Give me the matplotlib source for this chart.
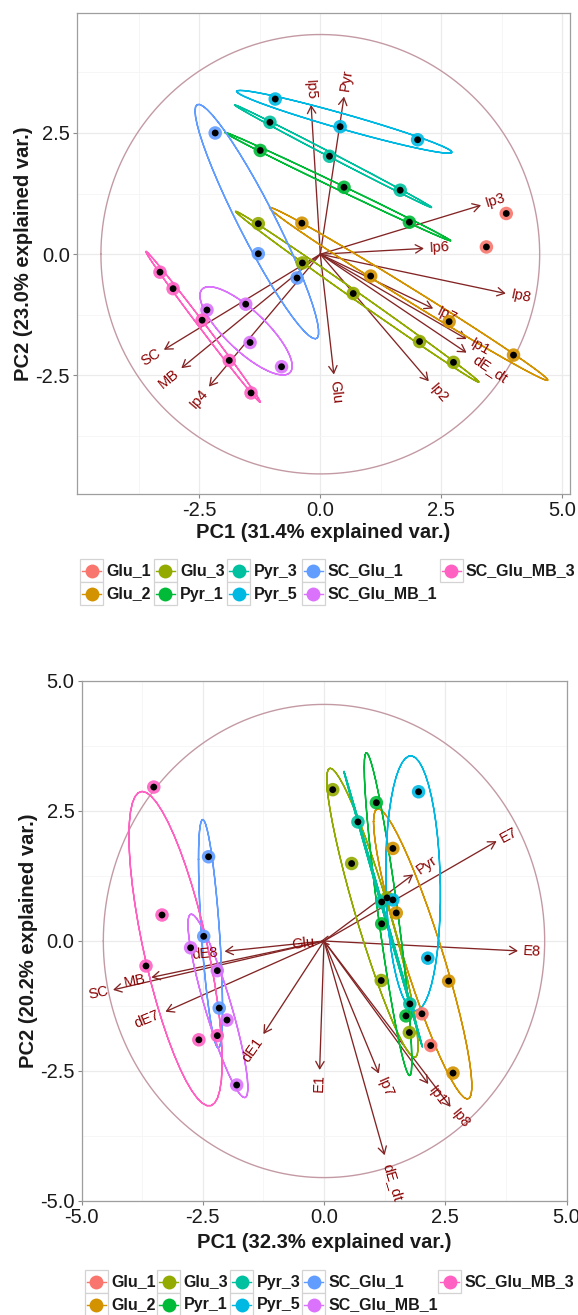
import numpy as np
import matplotlib
matplotlib.use('Agg')
import matplotlib.pyplot as plt
from matplotlib.patches import FancyArrowPatch, Rectangle, ArrowStyle
from matplotlib.font_manager import FontProperties
from matplotlib import transforms

plt.rcParams['font.family'] = ['Liberation Sans', 'DejaVu Sans']

# ---------------- data ----------------
GROUPS = ['Glu_1', 'Glu_2', 'Glu_3', 'Pyr_1', 'Pyr_3', 'Pyr_5',
          'SC_Glu_1', 'SC_Glu_MB_1', 'SC_Glu_MB_3']
PALETTE = ['#F8766D', '#D39200', '#93AA00', '#00BA38', '#00C19F',
           '#00B9E3', '#619CFF', '#DB72FB', '#FF61C3']

# top biplot (scores)
top_group = (['Glu_1'] * 2 + ['Glu_2'] * 4 + ['Glu_3'] * 5 + ['Pyr_1'] * 3 +
             ['Pyr_3'] * 3 + ['Pyr_5'] * 3 + ['SC_Glu_1'] * 3 +
             ['SC_Glu_MB_1'] * 4 + ['SC_Glu_MB_3'] * 5)
top_pc1 = [3.84, 3.43,
           -0.38, 1.04, 2.66, 3.99,
           -1.28, -0.37, 0.68, 2.05, 2.75,
           -1.24, 0.49, 1.84,
           -1.04, 0.19, 1.65,
           -0.93, 0.41, 2.01,
           -2.17, -1.28, -0.48,
           -2.34, -1.54, -1.45, -0.80,
           -3.31, -3.04, -2.44, -1.88, -1.43]
top_pc2 = [0.84, 0.15,
           0.64, -0.45, -1.39, -2.08,
           0.63, -0.18, -0.81, -1.80, -2.23,
           2.14, 1.38, 0.66,
           2.72, 2.02, 1.32,
           3.20, 2.63, 2.36,
           2.50, 0.01, -0.49,
           -1.15, -1.03, -1.82, -2.32,
           -0.37, -0.71, -1.36, -2.19, -2.86]
# top biplot (loadings)
top_vars = ['Ip5', 'Pyr', 'Ip3', 'Ip6', 'Ip8', 'Ip7', 'Ip1', 'dE_dt',
            'Ip2', 'Glu', 'SC', 'MB', 'Ip4']
top_var_pc1 = [-0.19, 0.49, 3.32, 2.14, 3.83, 2.33, 3.02, 3.02,
               2.24, 0.28, -3.23, -2.87, -2.30]
top_var_pc2 = [3.08, 3.25, 1.01, 0.12, -0.81, -1.12, -1.75, -2.03,
               -2.62, -2.48, -1.97, -2.35, -2.73]
top_circle_r = 4.53
top_xlab = 'PC1 (31.4% explained var.)'
top_ylab = 'PC2 (23.0% explained var.)'

# bottom biplot (scores)
bot_group = top_group
bot_pc1 = [2.02, 2.20,
           1.42, 1.49, 2.57, 2.66,
           0.18, 0.57, 1.30, 1.18, 1.76,
           1.08, 1.19, 1.69,
           0.70, 1.19, 1.77,
           1.95, 1.42, 2.14,
           -2.38, -2.48, -2.16,
           -2.75, -2.20, -2.00, -1.80,
           -3.51, -3.34, -3.67, -2.58, -2.20]
bot_pc2 = [-1.40, -2.01,
           1.78, 0.54, -0.77, -2.54,
           2.91, 1.49, 0.83, -0.76, -1.76,
           2.66, 0.33, -1.44,
           2.29, 0.75, -1.21,
           2.87, 0.79, -0.33,
           1.62, 0.09, -1.29,
           -0.13, -0.57, -1.52, -2.77,
           2.96, 0.50, -0.48, -1.90, -1.82]
# bottom biplot (loadings)
bot_vars = ['E7', 'Pyr', 'E8', 'Glu', 'dE8', 'MB', 'SC', 'dE7', 'dE1',
            'E1', 'Ip7', 'dE_dt', 'Ip1', 'Ip8']
bot_var_pc1 = [3.56, 1.84, 4.00, -0.08, -2.05, -3.56, -4.35, -3.27, -1.25,
               -0.09, 1.13, 1.25, 2.15, 2.61]
bot_var_pc2 = [1.92, 1.28, -0.19, -0.01, -0.20, -0.70, -0.94, -1.36, -1.79,
               -2.48, -2.55, -4.12, -2.75, -3.19]
bot_circle_r = 4.55
bot_xlab = 'PC1 (32.3% explained var.)'
bot_ylab = 'PC2 (20.2% explained var.)'

ELLIPSE_PROB = 0.68

# ---------------- figure ----------------
W, H, DPI = 578, 1315, 100
fig = plt.figure(figsize=(W / DPI, H / DPI), dpi=DPI)
renderer = fig.canvas.get_renderer()

ARROW_COL = '#832424'
LABEL_COL = '#8B0000'
CIRCLE_COL = '#C39AA4'
FRAME_COL = '#9E9E9E'


def px_axes(l, r, t, b):
    return fig.add_axes([l / W, 1 - b / H, (r - l) / W, (b - t) / H])


def biplot(ax, group, pc1, pc2, vnames, vx, vy, r, xlim, ylim, xticks, yticks):
    ax.set_xticks(xticks)
    ax.set_yticks(yticks)
    minors = [-3.75, -1.25, 1.25, 3.75]
    ax.set_xticks(minors, minor=True)
    ax.set_yticks(minors, minor=True)
    ax.set_xticklabels([f'{t:.1f}' for t in xticks])
    ax.set_yticklabels([f'{t:.1f}' for t in yticks])
    ax.grid(which='major', color='#EBEBEB', lw=0.9)
    ax.grid(which='minor', color='#F5F5F5', lw=0.6)
    ax.set_axisbelow(True)
    ax.tick_params(which='major', length=3, width=0.8, color='#8A8A8A',
                   labelsize=14.5, labelcolor='#1A1A1A', pad=2)
    ax.tick_params(which='minor', length=0)
    for s in ax.spines.values():
        s.set_color(FRAME_COL)
        s.set_linewidth(0.9)

    # correlation circle
    th = np.linspace(-np.pi, np.pi, 200)
    ax.plot(r * np.cos(th), r * np.sin(th), color=CIRCLE_COL, lw=1.0, zorder=2)

    # arrows
    style = ArrowStyle('->', head_length=5.2, head_width=3.0)
    for x, y in zip(vx, vy):
        a = FancyArrowPatch((0, 0), (x, y), arrowstyle=style, mutation_scale=1,
                            color=ARROW_COL, lw=0.95, shrinkA=0, shrinkB=0,
                            zorder=3)
        ax.add_patch(a)

    # ellipses
    g = np.array(group)
    x_all = np.array(pc1)
    y_all = np.array(pc2)
    ed = np.sqrt(-2 * np.log(1 - ELLIPSE_PROB))
    theta = np.concatenate([np.linspace(-np.pi, np.pi, 50),
                            np.linspace(np.pi, -np.pi, 50)])
    circ = np.column_stack([np.cos(theta), np.sin(theta)])
    for name, col in zip(GROUPS, PALETTE):
        m = g == name
        if m.sum() <= 2:
            continue
        xy = np.column_stack([x_all[m], y_all[m]])
        sig = np.cov(xy.T)
        L = np.linalg.cholesky(sig)
        e = circ @ L.T * ed + xy.mean(axis=0)
        ax.plot(e[:, 0], e[:, 1], color=col, lw=1.05, zorder=4)

    # variable labels (ggbiplot style)
    fp = FontProperties(family=['Liberation Sans', 'DejaVu Sans'], size=10.5)
    for nm, x, y in zip(vnames, vx, vy):
        ang = np.degrees(np.arctan(y / x))
        w, _, _ = renderer.get_text_width_height_descent(nm, fp, ismath=False)
        s = 1 if x > 0 else -1
        d = 0.25 * w * 72 / DPI
        tr = transforms.offset_copy(ax.transData, fig=fig,
                                    x=s * d * np.cos(np.radians(ang)),
                                    y=s * d * np.sin(np.radians(ang)),
                                    units='points')
        ax.text(x, y, nm, rotation=ang, rotation_mode='anchor',
                ha='left' if x > 0 else 'right', va='center',
                fontproperties=fp, color=LABEL_COL, transform=tr, zorder=5)

    # points
    for name, col in zip(GROUPS, PALETTE):
        m = g == name
        ax.scatter(x_all[m], y_all[m], s=95, color=col, edgecolors='none',
                   alpha=0.9, zorder=6)
    ax.scatter(x_all, y_all, s=24, color='black', edgecolors='none', zorder=7)

    ax.set_xlim(*xlim)
    ax.set_ylim(*ylim)


# top panel
ax1 = px_axes(76.7, 569.7, 12.7, 494.3)
biplot(ax1, top_group, top_pc1, top_pc2, top_vars, top_var_pc1, top_var_pc2,
       top_circle_r, (-5.03, 5.15), (-4.95, 4.98),
       [-2.5, 0.0, 2.5, 5.0], [-2.5, 0.0, 2.5])

# bottom panel
ax2 = px_axes(81.5, 566.5, 681, 1201)
biplot(ax2, bot_group, bot_pc1, bot_pc2, bot_vars, bot_var_pc1, bot_var_pc2,
       bot_circle_r, (-5.0, 5.0), (-5.0, 5.0),
       [-5.0, -2.5, 0.0, 2.5, 5.0], [-5.0, -2.5, 0.0, 2.5, 5.0])

# overlay for titles and legends (pixel coordinates)
ov = fig.add_axes([0, 0, 1, 1])
ov.set_xlim(0, W)
ov.set_ylim(H, 0)
ov.axis('off')

ov.text(323, 532.5, top_xlab, ha='center', va='center', fontsize=14.5,
        fontweight='bold', color='#1A1A1A')
ov.text(24, 253.5, top_ylab, ha='center', va='center', rotation=90,
        fontsize=14.5, fontweight='bold', color='#1A1A1A')
ov.text(324, 1242, bot_xlab, ha='center', va='center', fontsize=14.5,
        fontweight='bold', color='#1A1A1A')
ov.text(29, 941, bot_ylab, ha='center', va='center', rotation=90,
        fontsize=14.5, fontweight='bold', color='#1A1A1A')


def legend(col_x, row_top):
    n_rows = 2
    for i, (name, col) in enumerate(zip(GROUPS, PALETTE)):
        c, rr = divmod(i, n_rows)
        xk = col_x[c]
        yk = row_top + rr * 23
        ov.add_patch(Rectangle((xk, yk), 23, 23, facecolor='white',
                               edgecolor='#D3D3D3', lw=0.9))
        ov.plot([xk + 2, xk + 21], [yk + 11.5, yk + 11.5], color=col, lw=1.0)
        ov.plot([xk + 11.5], [yk + 11.5], 'o', color=col, ms=10, mec='none')
        ov.text(xk + 26.5, yk + 12, name, ha='left', va='center',
                fontsize=11.5, fontweight='bold', color='#1A1A1A')


legend([80, 153.5, 227, 301.5, 439.5], 559)
legend([84.5, 157, 230, 302, 438], 1270)

fig.savefig('out.png', dpi=DPI)
